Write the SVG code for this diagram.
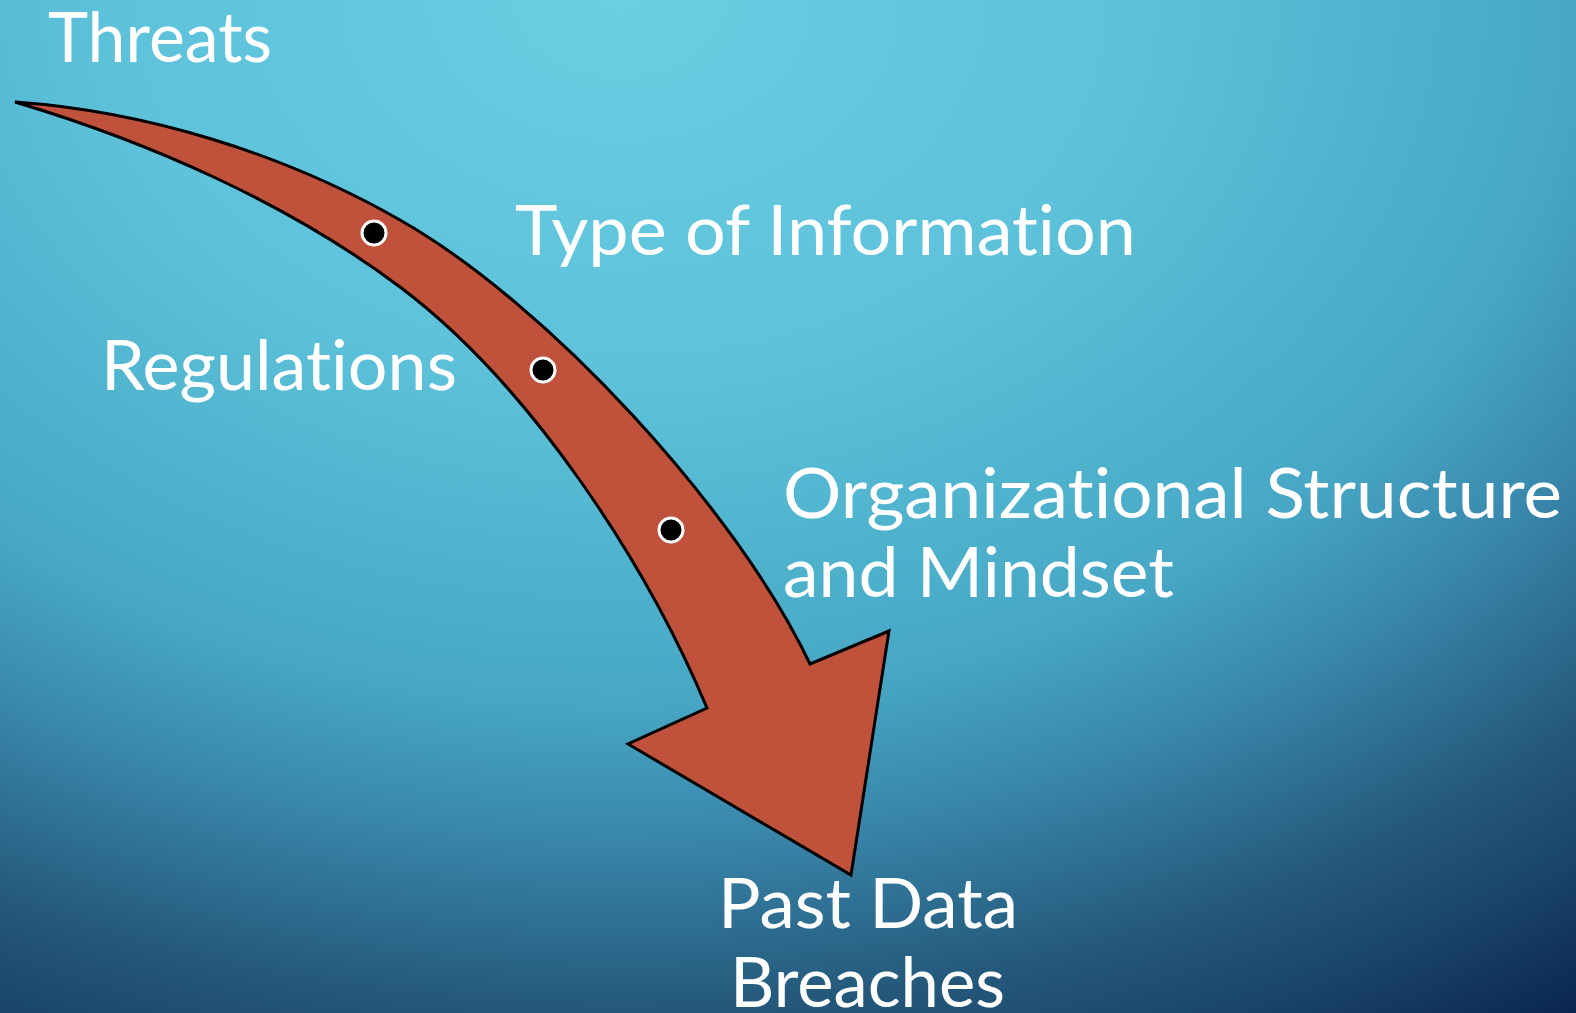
<svg xmlns="http://www.w3.org/2000/svg" width="1576" height="1013" viewBox="0 0 1576 1013">
  <defs>
    <radialGradient id="bg" gradientUnits="userSpaceOnUse" cx="620" cy="0" r="1680" gradientTransform="translate(620 0) scale(1 0.733) translate(-620 0)">
      <stop offset="0" stop-color="#6ACFE2"/>
      <stop offset="0.3" stop-color="#5DC2DA"/>
      <stop offset="0.49" stop-color="#4DB0CB"/>
      <stop offset="0.57" stop-color="#47A7C5"/>
      <stop offset="0.67" stop-color="#3A8AAE"/>
      <stop offset="0.82" stop-color="#24587A"/>
      <stop offset="0.90" stop-color="#1A4469"/>
      <stop offset="1" stop-color="#0B2550"/>
    </radialGradient>
    <style>
      .label { font-family: "Lato", "Liberation Sans", sans-serif; fill: #FFFFFF; font-size: 70px; font-variant-ligatures: none; font-feature-settings: "liga" 0, "clig" 0; }
      .arrow { fill: #C0523B; stroke: #000000; stroke-width: 3; stroke-linejoin: miter; }
      .dot { fill: #000000; stroke: #FFFFFF; stroke-width: 3; }
    </style>
  </defs>

  <rect x="0" y="0" width="1576" height="1013" fill="url(#bg)"/>

  <!-- curved arrow with its bullet markers -->
  <g id="connectors">
    <path class="arrow" d="M15,102 C145,111 283,153 400,220 C548,304 737,510 810,664 L889,631 L851,875 L628,744 L707,708 C645,560 528,383 400,287 C288,203 149,142 15,102 Z"/>
    <circle class="dot" cx="374" cy="233" r="12"/>
    <circle class="dot" cx="543" cy="370" r="12"/>
    <circle class="dot" cx="671" cy="530" r="12"/>
  </g>

  <g id="threats">
    <text class="label" x="48" y="62" font-size="72" textLength="224" lengthAdjust="spacingAndGlyphs">Threats</text>
  </g>
  <g id="type-of-information">
    <text class="label" x="515" y="255" textLength="621" lengthAdjust="spacingAndGlyphs">Type of Information</text>
  </g>
  <g id="regulations">
    <text class="label" x="101" y="390" textLength="356" lengthAdjust="spacingAndGlyphs">Regulations</text>
  </g>
  <g id="organizational-structure">
    <text class="label" x="783" y="518" textLength="779" lengthAdjust="spacingAndGlyphs">Organizational Structure</text>
    <text class="label" x="783" y="597" textLength="391" lengthAdjust="spacingAndGlyphs">and Mindset</text>
  </g>
  <g id="past-data-breaches">
    <text class="label" x="718" y="928" font-size="67" textLength="300" lengthAdjust="spacingAndGlyphs">Past Data</text>
    <text class="label" x="730" y="1007" font-size="67" textLength="275" lengthAdjust="spacingAndGlyphs">Breaches</text>
  </g>
</svg>
